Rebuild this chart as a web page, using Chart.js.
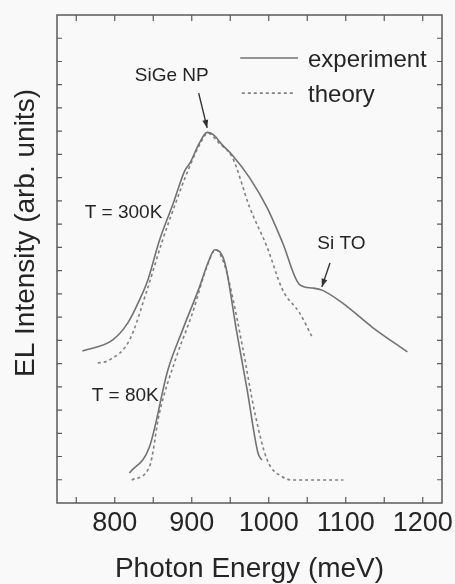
<!DOCTYPE html>
<html>
<head>
<meta charset="utf-8">
<title>EL spectra</title>
<script src="https://cdn.jsdelivr.net/npm/chart.js@4.4.1/dist/chart.umd.min.js"></script>
<style>
  html, body { margin: 0; padding: 0; background: #f9f9f9; }
  #wrap { width: 455px; height: 584px; }
</style>
</head>
<body>
<div id="wrap"><canvas id="elChart" width="455" height="584"></canvas></div>
<script>
// Photon energy (meV) and intensity (arb. units)
const exp300E = [758, 797, 817, 832, 843, 858, 876, 891, 898, 910, 920, 928, 940, 952, 975, 998, 1018, 1040, 1057, 1070, 1096, 1135, 1180];
const exp300Y = [6.54, 7.01, 7.75, 8.73, 9.6, 11.3, 12.9, 14.3, 14.65, 15.5, 15.95, 15.85, 15.4, 15.0, 14.0, 12.7, 11.2, 9.4, 9.25, 9.15, 8.6, 7.55, 6.5];

const theory300E = [778, 793, 819, 842, 862, 879, 895, 910, 921, 935, 953, 975, 998, 1018, 1040, 1057];
const theory300Y = [6.02, 6.15, 7.0, 9.17, 11.3, 12.9, 14.3, 15.4, 15.92, 15.5, 14.85, 12.74, 11.0, 9.17, 8.18, 7.1];

const exp80E = [819, 845, 869, 888, 910, 921, 930, 943, 958, 972, 986, 991];
const exp80Y = [1.29, 2.41, 5.72, 7.44, 9.29, 10.33, 10.9, 10.33, 7.44, 4.86, 2.15, 1.85];

const theory80E = [822, 845, 858, 880, 901, 920, 931, 943, 953, 966, 982, 998, 1018, 1031, 1097];
const theory80Y = [0.99, 1.55, 3.87, 6.28, 8.18, 10.2, 10.9, 10.2, 8.86, 6.71, 3.87, 1.85, 1.12, 0.99, 0.99];

// axis ticks
const xTicks = [800, 900, 1000, 1100, 1200];
const xTickMarks = [750, 800, 850, 900, 950, 1000, 1050, 1100, 1150, 1200];
const yTickMarks = [1, 2, 3, 4, 5, 6, 7, 8, 9, 10, 11, 12, 13, 14, 15, 16, 17, 18, 19, 20];

const lineColor = '#727272';
const frameColor = '#5a5a5a';
const textColor = '#252525';
const fontFamily = '"Liberation Sans", Arial, sans-serif';

function toPoints(xs, ys) {
    return xs.map((x, i) => ({ x: x, y: ys[i] }));
}

// frame, inward ticks, legend and labels
const decorations = {
    id: 'decorations',
    afterDraw(chart) {
        const ctx = chart.ctx;
        const area = chart.chartArea;
        const xs = chart.scales.x;
        const ys = chart.scales.y;
        const px = v => xs.getPixelForValue(v);
        const py = v => ys.getPixelForValue(v);

        ctx.save();
        ctx.strokeStyle = frameColor;
        ctx.lineWidth = 1.5;
        ctx.strokeRect(area.left, area.top, area.right - area.left, area.bottom - area.top);

        // ticks pointing inside
        ctx.lineWidth = 1.2;
        ctx.beginPath();
        xTickMarks.forEach(v => {
            const x = px(v);
            ctx.moveTo(x, area.bottom); ctx.lineTo(x, area.bottom - 6);
            ctx.moveTo(x, area.top); ctx.lineTo(x, area.top + 6);
        });
        yTickMarks.forEach(v => {
            const y = py(v);
            ctx.moveTo(area.left, y); ctx.lineTo(area.left + 5, y);
            ctx.moveTo(area.right, y); ctx.lineTo(area.right - 5, y);
        });
        ctx.stroke();

        // legend
        const ds = chart.data.datasets;
        ctx.lineWidth = ds[0].borderWidth;
        ctx.strokeStyle = ds[0].borderColor;
        ctx.setLineDash([]);
        ctx.beginPath();
        ctx.moveTo(px(963), py(19.15)); ctx.lineTo(px(1038), py(19.15));
        ctx.stroke();
        ctx.strokeStyle = ds[1].borderColor;
        ctx.setLineDash(ds[1].borderDash);
        ctx.beginPath();
        ctx.moveTo(px(965), py(17.64)); ctx.lineTo(px(1032), py(17.64));
        ctx.stroke();
        ctx.setLineDash([]);

        ctx.fillStyle = textColor;
        ctx.textBaseline = 'middle';
        ctx.textAlign = 'left';
        ctx.font = '24px ' + fontFamily;
        ctx.fillText('experiment', px(1051), py(19.06));
        ctx.fillText('theory', px(1051), py(17.56));

        // annotations
        ctx.font = '19px ' + fontFamily;
        ctx.fillText('T = 300K', px(761), py(12.48));
        ctx.fillText('T = 80K', px(770), py(4.6));
        ctx.fillText('Si TO', px(1063), py(11.15));
        ctx.textAlign = 'center';
        ctx.fillText('SiGe NP', px(874), py(18.37));

        drawArrow(ctx, px(909), py(17.64), px(920), py(16.14));
        drawArrow(ctx, px(1079.5), py(10.33), px(1069), py(9.3));

        // y axis title
        ctx.translate(26, 233);
        ctx.rotate(-Math.PI / 2);
        ctx.font = '28px ' + fontFamily;
        ctx.fillText('EL Intensity (arb. units)', 0, 0);
        ctx.restore();
    }
};

function drawArrow(ctx, x1, y1, x2, y2) {
    const ang = Math.atan2(y2 - y1, x2 - x1);
    ctx.strokeStyle = '#333';
    ctx.fillStyle = '#333';
    ctx.lineWidth = 1.4;
    ctx.beginPath();
    ctx.moveTo(x1, y1);
    ctx.lineTo(x2, y2);
    ctx.stroke();
    const len = 8, w = 3;
    ctx.beginPath();
    ctx.moveTo(x2, y2);
    ctx.lineTo(x2 - len * Math.cos(ang) + w * Math.sin(ang), y2 - len * Math.sin(ang) - w * Math.cos(ang));
    ctx.lineTo(x2 - len * Math.cos(ang) - w * Math.sin(ang), y2 - len * Math.sin(ang) + w * Math.cos(ang));
    ctx.closePath();
    ctx.fill();
    ctx.fillStyle = textColor;
}

const ctx = document.getElementById('elChart').getContext('2d');
const elChart = new Chart(ctx, {
    type: 'line',
    data: {
        datasets: [
            { label: 'experiment', data: toPoints(exp300E, exp300Y), borderColor: lineColor, borderWidth: 1.6 },
            { label: 'theory', data: toPoints(theory300E, theory300Y), borderColor: '#808080', borderWidth: 1.6, borderDash: [3, 3] },
            { label: 'experiment 80K', data: toPoints(exp80E, exp80Y), borderColor: lineColor, borderWidth: 1.6 },
            { label: 'theory 80K', data: toPoints(theory80E, theory80Y), borderColor: '#808080', borderWidth: 1.6, borderDash: [3, 3] }
        ]
    },
    options: {
        responsive: false,
        animation: false,
        devicePixelRatio: 1,
        layout: { padding: { top: 15, right: 13, left: 0, bottom: 0 } },
        elements: {
            point: { radius: 0 },
            line: { cubicInterpolationMode: 'monotone', fill: false }
        },
        plugins: {
            legend: { display: false },
            tooltip: { enabled: false }
        },
        scales: {
            x: {
                type: 'linear',
                min: 725,
                max: 1225,
                afterBuildTicks: scale => { scale.ticks = xTicks.map(v => ({ value: v })); },
                afterFit: scale => {
                    scale.height = 81;
                    scale.paddingLeft = 0;
                    scale.paddingRight = 0;
                },
                grid: { display: false, drawTicks: false },
                border: { display: false },
                ticks: {
                    padding: 4,
                    color: textColor,
                    font: { family: fontFamily, size: 27 },
                    callback: value => String(value)
                },
                title: {
                    display: true,
                    text: 'Photon Energy (meV)',
                    color: textColor,
                    padding: { top: 0, bottom: 1 },
                    font: { family: fontFamily, size: 28, lineHeight: 1 }
                }
            },
            y: {
                type: 'linear',
                min: 0,
                max: 21,
                afterFit: scale => { scale.width = 57; },
                grid: { display: false, drawTicks: false },
                border: { display: false },
                ticks: { display: false }
            }
        }
    },
    plugins: [decorations]
});
</script>
</body>
</html>
